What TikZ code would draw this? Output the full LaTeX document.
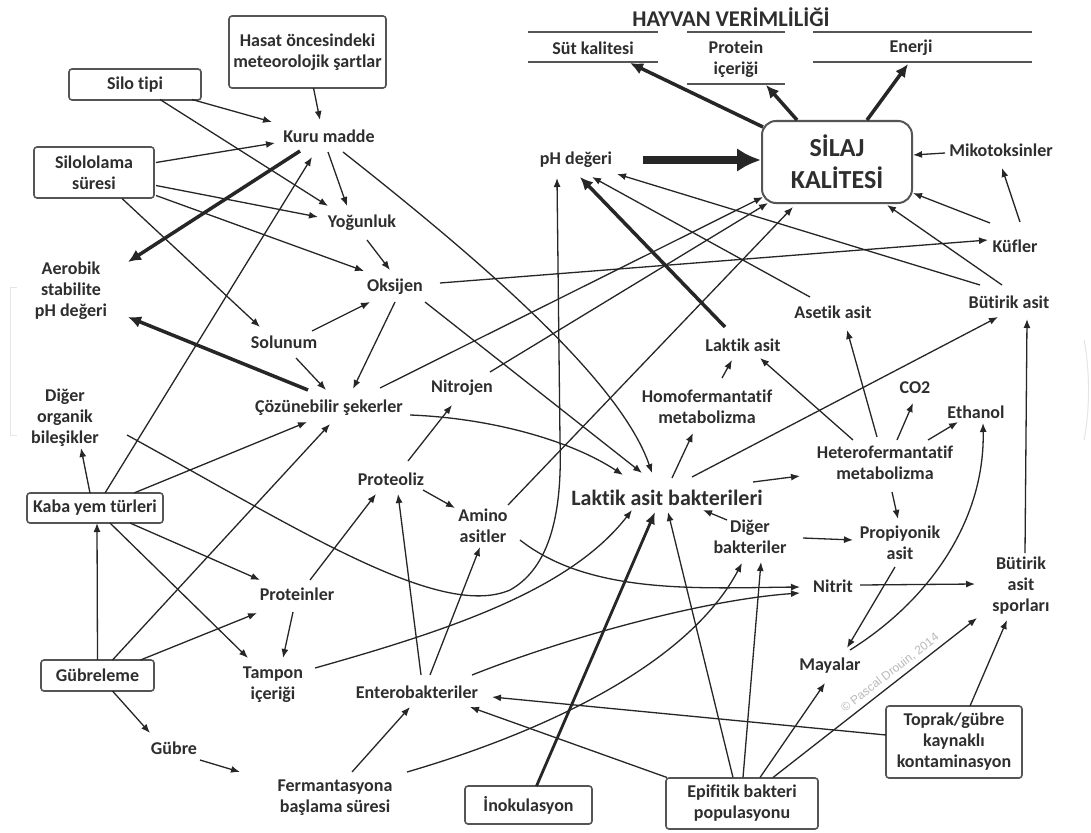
\documentclass[tikz,border=0pt]{standalone}
\usepackage{fontspec}
\setmainfont{Carlito}[Ligatures=NoCommon]
\newfontfamily\wmfont{Liberation Sans}
\usetikzlibrary{arrows.meta,calc}
\definecolor{ink}{HTML}{2E2E2E}
\definecolor{lnc}{HTML}{262626}
\definecolor{bxc}{HTML}{555555}
\newcommand\edge[7][ar]{\draw[#1] ($(#2)+(#3,#4)$) -- ($(#5)+(#6,#7)$);}
\begin{document}
\begin{tikzpicture}[x=1pt,y=-1pt,
 lbl/.style={font=\bfseries\fontsize{18}{21}\selectfont, text=ink, align=center, inner sep=0pt},
 bx/.style={lbl, draw=bxc, line width=1.6pt, rounded corners=3pt},
 ar/.style={draw=lnc, line width=1.3pt, -{Latex[length=9pt,width=7pt]}},
 tar/.style={draw=lnc, line width=3.5pt, -{Latex[length=13pt,width=12pt]}},
 tarb/.style={draw=lnc, line width=2.8pt, -{Latex[length=12pt,width=10pt]}},
 vtar/.style={draw=lnc, line width=8pt, -{Latex[length=24pt,width=24pt]}},
 hl/.style={draw=bxc, line width=1.6pt},
 faint/.style={draw=black!10, line width=1pt}]
\useasboundingbox[fill=white] (0,0) rectangle (1091,832);

% faint background marks
\draw[faint] (17,287) -- (10,287) -- (10,435) -- (17,435);
\draw[faint] (1084,340) .. controls (1090,370) and (1090,410) .. (1084,440);

% nodes
\node[lbl,font=\bfseries\fontsize{22.5}{26}\selectfont] (title) at (731,17) {HAYVAN VERİMLİLİĞİ};
\node[lbl] (sut) at (593,48) {Süt kalitesi};
\node[lbl] (prt) at (736,59) {Protein\\içeriği};
\node[lbl] (ener) at (911,48) {Enerji};
\draw[hl] (528,32) -- (658,32) (528,62) -- (658,62);
\draw[hl] (687,32) -- (785,32) (687,84) -- (785,84);
\draw[hl] (813,32) -- (1032,32) (813,62) -- (1032,62);

\node[bx, rounded corners=14pt, minimum width=150pt, minimum height=82pt, line width=2pt,
      font=\bfseries\fontsize{26}{32}\selectfont] (silaj) at (837,162) {SİLAJ\\KALİTESİ};
\node[lbl] (ph) at (576,160) {pH değeri};
\node[lbl] (miko) at (1001,150) {Mikotoksinler};
\node[lbl] (kuf) at (1015,246) {Küfler};
\node[lbl] (but) at (1009,302) {Bütirik asit};
\node[lbl] (ase) at (833,312) {Asetik asit};
\node[lbl] (lak) at (743,345) {Laktik asit};
\node[lbl] (homo) at (707,407) {Homofermantatif\\metabolizma};
\node[lbl] (co) at (915,388) {CO2};
\node[lbl] (eth) at (976,412) {Ethanol};
\node[lbl] (het) at (885,463) {Heterofermantatif\\metabolizma};
\node[lbl,font=\bfseries\fontsize{22}{26}\selectfont] (lab) at (667,498) {Laktik asit bakterileri};
\node[lbl] (dig) at (750,537) {Diğer\\bakteriler};
\node[lbl] (pro) at (900,543) {Propiyonik\\asit};
\node[lbl] (nit) at (833,586) {Nitrit};
\node[lbl] (bsp) at (1021,586) {Bütirik\\asit\\sporları};
\node[lbl] (may) at (830,666) {Mayalar};
\node[bx, minimum width=136pt, minimum height=72pt] (top) at (954,742) {Toprak/gübre\\kaynaklı\\kontaminasyon};
\node[bx, minimum width=152pt, minimum height=51pt] (epi) at (742,803.5) {Epifitik bakteri\\populasyonu};
\node[bx, minimum width=127pt, minimum height=38pt] (ino) at (528.5,805) {İnokulasyon};
\node[lbl] (ent) at (417,692) {Enterobakteriler};
\node[lbl] (fer) at (335,798) {Fermantasyona\\başlama süresi};
\node[lbl] (gub) at (174,748) {Gübre};
\node[bx, minimum width=113pt, minimum height=31pt] (gbl) at (97.5,675.5) {Gübreleme};
\node[lbl] (tam) at (273,685) {Tampon\\içeriği};
\node[lbl] (prn) at (297,594) {Proteinler};
\node[bx, minimum width=136pt, minimum height=30pt] (kab) at (95,508) {Kaba yem türleri};
\node[lbl] (dob) at (65,418) {Diğer\\organik\\bileşikler};
\node[lbl] (coz) at (329,408) {Çözünebilir şekerler};
\node[lbl] (prl) at (391,479) {Proteoliz};
\node[lbl] (ami) at (483,526) {Amino\\asitler};
\node[lbl] (nitj) at (462,388) {Nitrojen};
\node[lbl] (sol) at (284,342) {Solunum};
\node[lbl] (oks) at (395,287) {Oksijen};
\node[lbl] (yog) at (362,223) {Yoğunluk};
\node[lbl] (km) at (329,136) {Kuru madde};
\node[bx, minimum width=157pt, minimum height=72pt] (has) at (307.5,52) {Hasat öncesindeki\\meteorolojik şartlar};
\node[bx, minimum width=132pt, minimum height=31pt] (silo) at (135,84.5) {Silo tipi};
\node[bx, minimum width=120pt, minimum height=51pt] (sls) at (94,172.5) {Silololama\\süresi};
\node[lbl] (aer) at (71,291) {Aerobik\\stabilite\\pH değeri};
\node[rotate=38, text=gray!55, font=\wmfont\fontsize{12}{14}\selectfont] (wm) at (890,673) {© Pascal Drouin, 2014};

% connectors
\edge{silo}{57}{15}{km}{-57}{-14}
\edge{silo}{25}{15}{yog}{-34}{-17}
\edge{has}{6}{36}{km}{-9}{-16}
\edge{sls}{62}{-10}{km}{-54}{7}
\edge{sls}{62}{13}{yog}{-44}{-6}
\edge{sls}{62}{23}{oks}{-31}{-16}
\edge{sls}{28}{26}{sol}{-24}{-15}
\edge{km}{-1}{16}{yog}{-15}{-17}
\edge[tar]{km}{-29}{15}{aer}{57}{-29}
\draw[ar] ($(km)+(14,16)$) .. controls (480,260) and (620,380) .. ($(lab)+(-15,-25)$);
\edge{kab}{10}{-15}{km}{-17}{21}
\edge{yog}{5}{17}{oks}{-5}{-17}
\edge{oks}{45}{-4}{kuf}{-27}{-6}
\edge{oks}{0}{15}{coz}{24}{-19}
\edge{oks}{30}{15}{lab}{-25}{-25}
\edge{sol}{28}{-11}{oks}{-25}{15}
\edge{sol}{12}{16}{coz}{-3}{-18}
\edge[tar]{coz}{-21}{-18}{aer}{57}{26}
\edge{coz}{51}{-20}{silaj}{-74}{35}
\draw[ar] ($(coz)+(81,7)$) .. controls (490,418) and (570,440) .. ($(lab)+(-44,-23)$);
\edge{kab}{-5}{-15}{dob}{16}{30}
\edge{kab}{39}{-15}{coz}{-22}{14}
\edge{kab}{35}{15}{prn}{-37}{-14}
\edge{kab}{15}{15}{tam}{-25}{-27}
\edge{gbl}{0}{-15.5}{kab}{2}{15}
\edge{gbl}{15}{-15.5}{coz}{1}{16}
\edge{gbl}{43}{-15.5}{prn}{-40}{19}
\edge{gbl}{15}{15.5}{gub}{-24}{-15}
\edge{gub}{26}{12}{fer}{-95}{-26}
\draw[ar] ($(dob)+(62,17)$) .. controls (300,530) and (440,620) .. (510,590)
   .. controls (555,565) and (562,500) .. (560,440) -- ($(ph)+(-19,18)$);
\edge{fer}{17}{-26}{ent}{-7}{15}
\draw[ar] ($(fer)+(72,-26)$) .. controls (500,745) and (680,680) .. ($(dig)+(-8,26)$);
\edge{ent}{4}{-17}{prl}{7}{15}
\edge{ent}{13}{-17}{ami}{-3}{21}
\draw[ar] ($(ent)+(55,-17)$) .. controls (560,640) and (700,600) .. ($(nit)+(-33,7)$);
\draw[ar] ($(ami)+(37,14)$) .. controls (590,595) and (700,588) .. ($(nit)+(-33,1)$);
\edge{ami}{25}{-21}{silaj}{-44}{45}
\edge{prl}{17}{-18}{nitj}{-10}{17}
\edge{prl}{32}{11}{ami}{-28}{-18}
\edge{nitj}{28}{-16}{silaj}{-69}{41}
\edge{prn}{13}{-14}{prl}{-15}{15}
\edge{prn}{-4}{18}{tam}{10}{-27}
\draw[ar] ($(tam)+(42,-17)$) .. controls (450,630) and (570,590) .. ($(lab)+(-35,12)$);
\edge[tarb]{ino}{8}{-19}{lab}{-12}{14}
\edge{epi}{-75}{-26}{ent}{53}{15}
\edge{epi}{-9}{-26}{lab}{1}{14}
\edge{epi}{1}{-26}{dig}{11}{25}
\edge{epi}{18}{-26}{may}{-5}{17}
\edge{epi}{31}{-26}{bsp}{-44}{32}
\edge{top}{-68}{-7}{ent}{75}{5}
\edge{top}{16}{-36}{bsp}{-14}{34}
\draw[ar] ($(may)+(20,-16)$) .. controls (930,600) and (985,520) .. ($(eth)+(7,11)$);
\edge{pro}{-5}{24}{may}{17}{-18}
\edge{nit}{27}{-1}{bsp}{-46}{-2}
\edge{dig}{-23}{-17}{lab}{36}{12}
\edge{dig}{53}{1}{pro}{-47}{-3}
\edge{bsp}{4}{-33}{but}{18}{17}
\edge{het}{-32}{-23}{lak}{17}{13}
\edge{het}{-8}{-26}{ase}{14}{18}
\edge{het}{12}{-23}{co}{-2}{15}
\edge{het}{43}{-23}{eth}{-18}{10}
\edge{het}{7}{29}{pro}{-2}{-24}
\edge{lab}{5}{-20}{homo}{-14}{26}
\edge{lab}{86}{-16}{het}{-85}{13}
\edge{lab}{25}{-21}{but}{-11}{15}
\edge{homo}{15}{-29}{lak}{-11}{15}
\edge[tar]{lak}{-18}{-18}{ph}{4}{17}
\edge{ase}{-23}{-15}{ph}{16}{17}
\edge{but}{-29}{-17}{ph}{41}{14}
\edge{but}{-7}{-17}{silaj}{50}{43}
\edge{kuf}{-25}{-23}{silaj}{76}{31}
\edge{kuf}{5}{-24}{miko}{1}{18}
\edge{miko}{-56}{3}{silaj}{76}{-7}
\edge[vtar]{ph}{67}{0}{silaj}{-76}{-2}
\edge[tar]{silaj}{-74}{-35}{sut}{37}{15}
\edge[tar]{silaj}{-40}{-42}{prt}{30}{26}
\edge[tar]{silaj}{30}{-42}{ener}{-3}{16}
\end{tikzpicture}
\end{document}
